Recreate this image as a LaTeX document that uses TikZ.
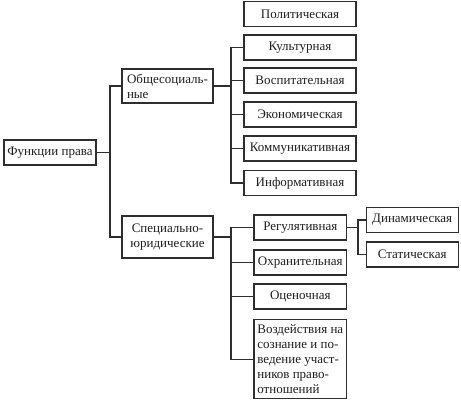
\documentclass[tikz,border=0pt]{standalone}
\usepackage{fontspec}
\setmainfont{Liberation Serif}
\usepackage{xcolor}
\usepackage{tikz}
\definecolor{ink}{HTML}{1E1E1E}
\definecolor{edge}{HTML}{2E2E2E}
\tikzset{
  box/.style={draw=edge, line width=1.2pt, text=ink, minimum height=25pt, inner sep=2pt,
    font=\fontsize{13}{15}\selectfont},
  wire/.style={draw=edge, line width=1.2pt},
}
\begin{document}
\begin{tikzpicture}[x=1pt, y=-1pt]
\useasboundingbox (0,0) rectangle (461,400);
% root and first level
\node[box, minimum width=92] (fp) at (50,152.5) {Функции права};
\node[box, minimum width=91, minimum height=34, align=left] (obs) at (167.5,86) {Общесоциаль-\\ные};
\node[box, minimum width=91, minimum height=42, align=center] (spec) at (167.5,237) {Специально-\\юридические};

% general functions
\node[box, minimum width=112] (pol) at (300,14.2) {Политическая};
\node[box, minimum width=112] (kult) at (300,47.5) {Культурная};
\node[box, minimum width=112] (vosp) at (300,80.5) {Воспитательная};
\node[box, minimum width=112] (ekon) at (300,114.5) {Экономическая};
\node[box, minimum width=112] (komm) at (300,148.5) {Коммуникативная};
\node[box, minimum width=112] (inf) at (300,183) {Информативная};

% special legal functions
\node[box, minimum width=92.5] (reg) at (300.3,227.5) {Регулятивная};
\node[box, minimum width=92.5] (ohr) at (300.3,262.5) {Охранительная};
\node[box, minimum width=92.5] (ots) at (300.3,296.5) {Оценочная};
\node[box, minimum width=92.5, minimum height=79, align=left] (vozd) at (300.3,359.3)
  {Воздействия на\\сознание и по-\\ведение участ-\\ников право-\\отношений};

% kinds of regulation
\node[box, minimum width=92] (din) at (412.2,220) {Динамическая};
\node[box, minimum width=92] (stat) at (412.2,254.5) {Статическая};

% junctions
\coordinate (jfp) at (110,152.5);
\coordinate (jobs) at (231,86);
\coordinate (jspec) at (231,237);
\coordinate (jreg) at (358,227.5);

\draw[wire] (fp.east) -- (jfp);
\draw[wire] (jfp) |- (obs.west);
\draw[wire] (jfp) |- (spec.west);

\draw[wire] (obs.east) -- (jobs);
\foreach \n in {kult,vosp,ekon,komm,inf}
  \draw[wire] (jobs) |- (\n.west);

\draw[wire] (spec.east) -- (jspec);
\foreach \n in {reg,ohr,ots,vozd}
  \draw[wire] (jspec) |- (\n.west);

\draw[wire] (reg.east) -- (jreg);
\draw[wire] (jreg) |- (din.west);
\draw[wire] (jreg) |- (stat.west);
\end{tikzpicture}
\end{document}
